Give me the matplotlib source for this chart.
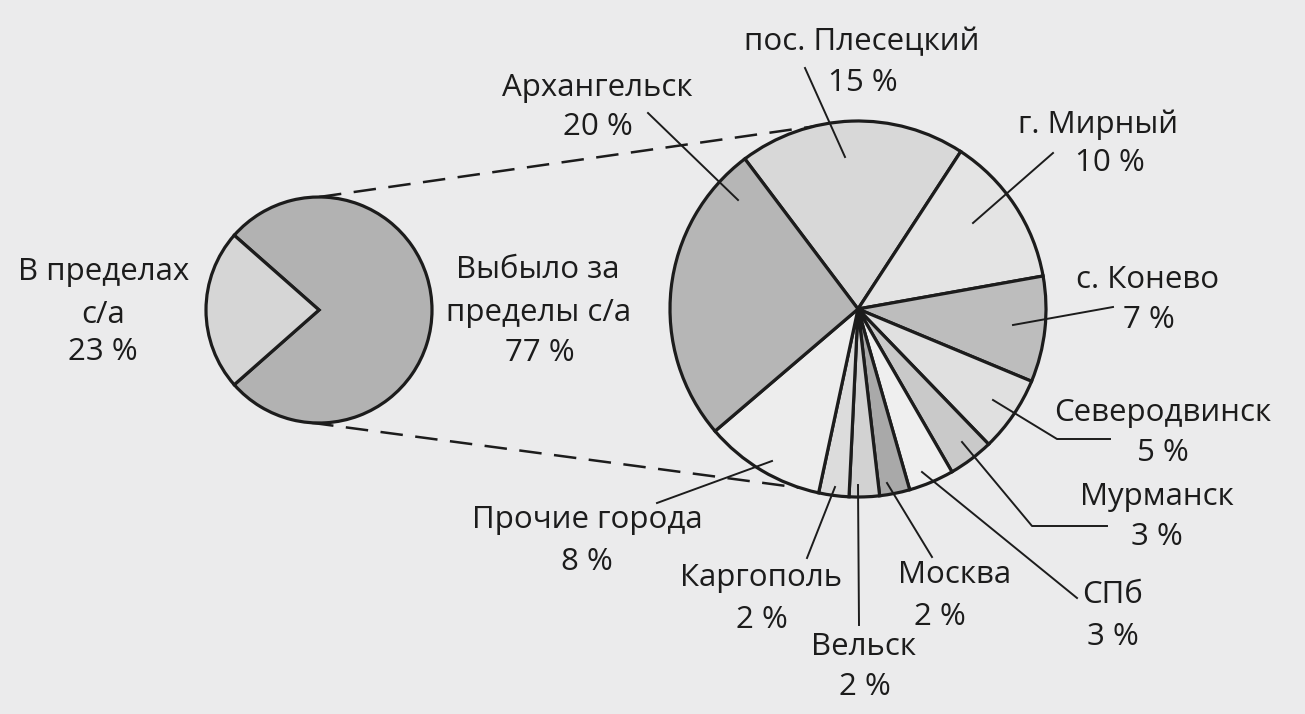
import numpy as np
import matplotlib
matplotlib.use("Agg")
import matplotlib.pyplot as plt

plt.rcParams['font.family'] = ['Open Sans', 'DejaVu Sans']

# --- data ---
inner_labels = ["Выбыло за\nпределы с/а", "В пределах\nс/а"]
inner_values = [77, 23]
inner_colors = ["#b2b2b2", "#d6d6d6"]

cities = ["пос. Плесецкий", "г. Мирный", "с. Конево", "Северодвинск", "Мурманск",
          "СПб", "Москва", "Вельск", "Каргополь", "Прочие города", "Архангельск"]
city_values = [15, 10, 7, 5, 3, 3, 2, 2, 2, 8, 20]
city_colors = ["#d8d8d8", "#e4e4e4", "#bdbdbd", "#e0e0e0", "#c9c9c9",
               "#efefef", "#a9a9a9", "#d2d2d2", "#dcdcdc", "#ededed", "#b6b6b6"]

W, H = 1305, 714
BG = "#ebebec"
INK = "#1c1c1c"

fig = plt.figure(figsize=(W / 100, H / 100), dpi=100, facecolor=BG)
ax = fig.add_axes([0, 0, 1, 1])
ax.set_facecolor(BG)


def P(x, y):
    # image pixel -> data (y up)
    return x, H - y


small_c = P(319, 310)
small_r = 113
big_c = P(858, 309)
big_r = 188

wp = dict(edgecolor=INK, linewidth=2.3)
ax.pie(inner_values, colors=inner_colors, startangle=180 + 23 / 100 * 180,
       center=small_c, radius=small_r, wedgeprops=wp, frame=True)
ax.pie(city_values, colors=city_colors, startangle=127, counterclock=False,
       center=big_c, radius=big_r, wedgeprops=wp, frame=True)
ax.set_xlim(0, W)
ax.set_ylim(0, H)
ax.set_aspect('equal')
ax.axis('off')

# dashed connectors
def on_circle(c, r, ang):
    a = np.deg2rad(ang)
    return c[0] + r * np.cos(a), c[1] + r * np.sin(a)

for a_small, a_big in [(90, 104), (266, 252)]:
    p0 = on_circle(small_c, small_r, a_small)
    p1 = on_circle(big_c, big_r, a_big)
    ax.plot([p0[0], p1[0]], [p0[1], p1[1]], color=INK, lw=1.8,
            dashes=(9, 5), zorder=0.5)

# leader lines (image px)
leaders = [
    [(805, 68), (845, 157)],
    [(1053, 153), (973, 223)],
    [(1113, 307), (1013, 325)],
    [(993, 400), (1057, 439), (1110, 439)],
    [(962, 442), (1032, 526), (1107, 526)],
    [(922, 472), (1077, 598)],
    [(887, 483), (932, 557)],
    [(858, 485), (859, 625)],
    [(835, 487), (807, 558)],
    [(772, 461), (657, 503)],
    [(648, 113), (738, 200)],
]
for pts in leaders:
    xs, ys = zip(*[P(*p) for p in pts])
    ax.plot(xs, ys, color=INK, lw=1.4, zorder=5)

# label positions (name line, percent line), image px
label_pos = [
    ((862, 42), (863, 83)),
    ((1098, 125), (1110, 163)),
    ((1148, 280), (1149, 320)),
    ((1163, 413), (1163, 453)),
    ((1157, 497), (1157, 537)),
    ((1113, 595), (1113, 637)),
    ((955, 575), (940, 617)),
    ((864, 647), (865, 687)),
    ((761, 578), (762, 620)),
    ((587, 520), (587, 562)),
    ((597, 88), (598, 127)),
]
fs = 22.5
fw = 'medium'
for name, v, (pn, pp) in zip(cities, city_values, label_pos):
    ax.text(*P(*pn), name, ha='center', va='center', fontsize=fs,
            fontweight=fw, color=INK)
    ax.text(*P(*pp), f"{v} %", ha='center', va='center', fontsize=fs,
            fontweight=fw, color=INK)

inner_pos = [[(538, 270), (539, 313), (540, 353)],
             [(104, 272), (103, 315), (103, 352)]]
for lab, v, pos in zip(inner_labels, inner_values, inner_pos):
    lines = lab.split("\n") + [f"{v} %"]
    for t, p in zip(lines, pos):
        ax.text(*P(*p), t, ha='center', va='center', fontsize=fs,
                fontweight=fw, color=INK)

fig.savefig("out.png", dpi=100, facecolor=BG)
